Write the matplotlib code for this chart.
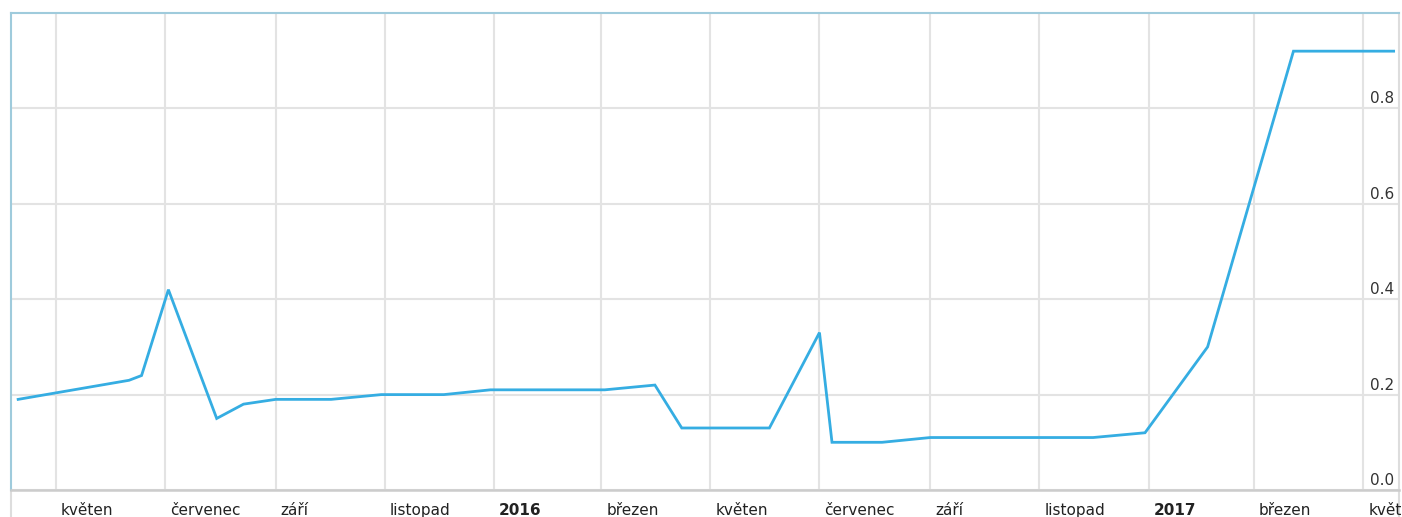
import pandas as pd
import matplotlib
matplotlib.use('Agg')
import matplotlib.pyplot as plt
from matplotlib.transforms import ScaledTranslation, blended_transform_factory

# data
dates = ['2015-04-10', '2015-06-11', '2015-06-18', '2015-07-03', '2015-07-30',
         '2015-08-14', '2015-09-01', '2015-10-02', '2015-10-30', '2015-12-04',
         '2015-12-30', '2016-03-03', '2016-03-31', '2016-04-15', '2016-06-03',
         '2016-07-01', '2016-07-08', '2016-08-05', '2016-09-01', '2016-12-01',
         '2016-12-30', '2017-02-03', '2017-03-23', '2017-05-18']
values = [0.19, 0.23, 0.24, 0.42, 0.15,
          0.18, 0.19, 0.19, 0.20, 0.20,
          0.21, 0.21, 0.22, 0.13, 0.13,
          0.33, 0.10, 0.10, 0.11, 0.11,
          0.12, 0.30, 0.92, 0.92]

tick_dates = ['2015-05-01', '2015-07-01', '2015-09-01', '2015-11-01', '2016-01-01',
              '2016-03-01', '2016-05-01', '2016-07-01', '2016-09-01', '2016-11-01',
              '2017-01-01', '2017-03-01', '2017-05-01']
tick_labels = ['květen', 'červenec', 'září', 'listopad', '2016',
               'březen', 'květen', 'červenec', 'září', 'listopad',
               '2017', 'březen', 'květen']
y_ticks = [0.0, 0.2, 0.4, 0.6, 0.8]

x = pd.to_datetime(dates)
xt = pd.to_datetime(tick_dates)

fig = plt.figure(figsize=(14.02, 5.17), dpi=100)
ax = fig.add_axes([11 / 1402, 1 - 490 / 517, (1399 - 11) / 1402, (490 - 13) / 517])

ax.plot(x, values, color='#35ade2', lw=2.0, solid_joinstyle='miter', zorder=3)

ax.set_xlim(pd.Timestamp('2015-04-06'), pd.Timestamp('2017-05-21'))
ax.set_ylim(0, 1.0)

# month labels sit just right of their gridline, below the axis line
ax.set_xticks(xt)
ax.set_xticklabels([])
ax.tick_params(axis='both', length=0)
xtrans = blended_transform_factory(ax.transData, ax.transAxes) + \
    ScaledTranslation(5 / 100, 0, fig.dpi_scale_trans)
for d, txt in zip(xt, tick_labels):
    ax.text(d, -0.042, txt, transform=xtrans, ha='left', va='center', fontsize=11,
            color='#222222', fontweight='bold' if txt.isdigit() else 'normal',
            clip_on=False)

ax.set_yticks(y_ticks)
ax.set_yticklabels([])
ytrans = blended_transform_factory(ax.transAxes, ax.transData)
for v in y_ticks:
    ax.text(0.9965, v + 0.004, '%.1f' % v, transform=ytrans, ha='right', va='bottom',
            fontsize=11, color='#333333')

ax.grid(True, color='#e3e3e3', lw=1.5)
ax.set_axisbelow(True)

for side in ['left', 'top']:
    ax.spines[side].set_color('#9fcbdc')
    ax.spines[side].set_linewidth(1.5)
ax.spines['right'].set_color('#dddddd')
ax.spines['right'].set_linewidth(1.5)
ax.spines['bottom'].set_color('#cccccc')
ax.spines['bottom'].set_linewidth(1.8)

# small gray stubs below the axis line at both ends
ax.axvline(ax.get_xlim()[0], ymin=-0.06, ymax=0, color='#dddddd', lw=1.5, clip_on=False)
ax.axvline(ax.get_xlim()[1], ymin=-0.06, ymax=0, color='#dddddd', lw=1.5, clip_on=False)

fig.savefig('out.png', dpi=100)
